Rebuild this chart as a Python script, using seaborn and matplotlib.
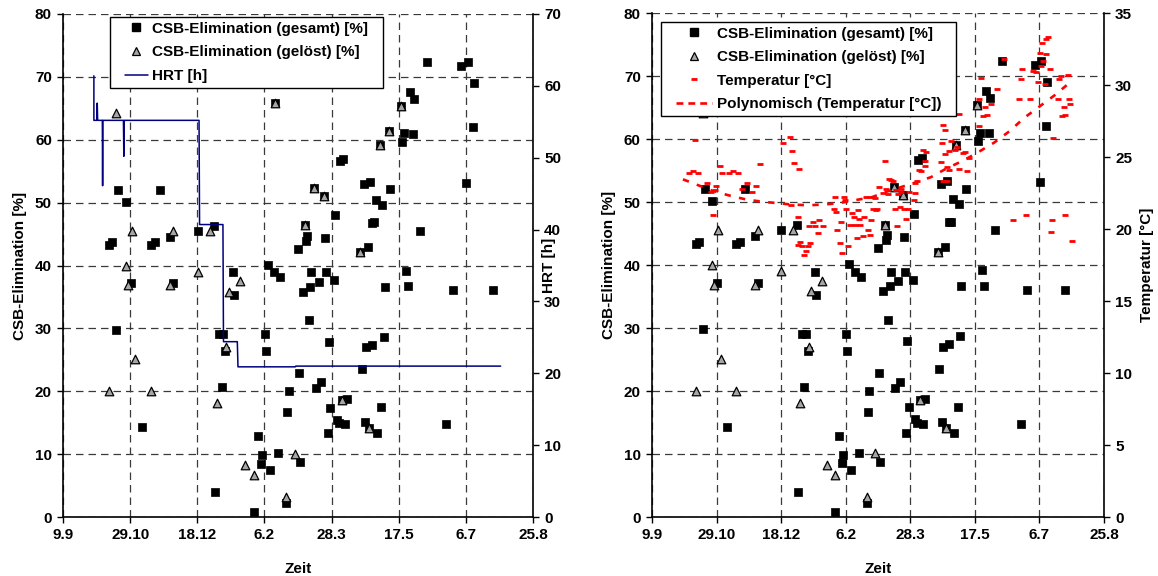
import matplotlib
matplotlib.use("Agg")
import matplotlib.pyplot as plt
import seaborn as sns
import numpy as np
from matplotlib.lines import Line2D
from matplotlib.patches import Rectangle

# ---------------- data (x = days after 9.9) ----------------
tick_labels = ["9.9", "29.10", "18.12", "6.2", "28.3", "17.5", "6.7", "25.8"]

gesamt_days = [34.4, 36.6, 39.4, 41.1, 46.6, 50.3, 58.5, 65.2, 68.3, 72.3,
               79.5, 81.9, 100.3, 112.2, 113.1, 116.4, 118.1, 119.4, 120.6, 126.3,
               127.0, 142.1, 145.1, 147.3, 148.1, 150.1, 151.3, 152.8, 154.0, 157.3,
               158.2, 160.2, 161.7, 166.2, 167.1, 168.1, 175.1, 176.1, 176.8, 178.8,
               180.2, 181.0, 182.0, 183.0, 184.0, 185.0, 187.2, 188.5, 190.9, 191.9,
               194.1, 194.9, 195.9, 197.1, 197.8, 198.9, 201.8, 202.8, 203.8, 205.3,
               206.0, 207.8, 208.8, 210.0, 211.2, 221.4, 222.6, 223.8, 224.9, 225.6,
               227.1, 227.5, 228.6, 229.8, 230.3, 231.8, 232.8, 233.8, 235.7, 236.8,
               237.7, 238.7, 239.7, 242.7, 243.4, 251.8, 252.6, 253.9, 255.6, 256.8,
               258.5, 260.8, 261.5, 265.7, 271.4, 285.5, 290.5, 296.4, 300.4, 301.4,
               305.3, 306.3, 320.2]
gesamt_vals = [43.3, 43.7, 29.8, 52.0, 50.1, 37.2, 14.3, 43.3, 43.7, 52.0,
               44.6, 37.2, 45.5, 46.3, 4.0, 29.1, 20.7, 29.1, 26.4, 38.9,
               35.3, 0.8, 12.9, 8.5, 9.9, 29.1, 26.4, 40.1, 7.5, 38.9,
               65.8, 10.2, 38.1, 2.3, 16.7, 20.0, 42.7, 22.9, 8.7, 35.8,
               46.4, 43.9, 44.7, 31.3, 36.6, 38.9, 52.4, 20.5, 37.4, 21.5,
               51.1, 44.4, 38.9, 13.4, 27.9, 17.4, 37.7, 48.1, 15.5, 15.0,
               56.6, 18.6, 57.0, 14.8, 18.8, 42.1, 23.5, 52.9, 15.1, 27.0,
               42.9, 14.2, 53.3, 27.4, 46.8, 46.9, 50.4, 13.4, 59.1, 17.5,
               49.7, 28.7, 36.6, 61.4, 52.1, 65.4, 59.7, 61.0, 39.2, 36.7,
               67.6, 60.9, 66.5, 45.5, 72.4, 14.8, 36.1, 71.8, 53.2, 72.4,
               62.1, 69.1, 36.1]

geloest_days = [34.4, 39.4, 46.6, 48.1, 51.3, 53.7, 65.4, 79.5, 81.9, 100.3,
                109.2, 114.4, 121.3, 123.3, 131.5, 135.4, 142.1, 158.2, 166.2, 173.1,
                180.2, 187.2, 194.1, 207.8, 221.4, 227.5, 235.7, 242.7, 251.8]
geloest_vals = [20.0, 64.2, 40.0, 36.9, 45.5, 25.1, 20.0, 36.9, 45.5, 39.0,
                45.5, 18.1, 27.0, 35.8, 37.5, 8.2, 6.7, 65.8, 3.2, 10.1,
                46.4, 52.4, 51.1, 18.6, 42.1, 14.2, 59.1, 61.4, 65.4]

hrt_days = [23.0, 23.0, 25.2, 25.5, 25.8, 29.3, 29.5, 29.7, 45.0, 45.3,
            45.6, 101.3, 101.7, 119.1, 119.5, 129.8, 130.3, 173.0, 173.3, 325.9]
hrt_vals = [61.4, 55.2, 55.2, 57.6, 55.2, 55.2, 46.1, 55.2, 55.2, 50.2,
            55.2, 55.2, 40.7, 40.7, 24.4, 24.4, 20.9, 20.9, 21.0, 21.0]

temp_days = [28.4, 31.5, 33.5, 35.5, 42.7, 45.4, 47.4, 48.9, 49.5, 52.5,
             54.6, 59.3, 62.8, 67.0, 70.1, 73.6, 77.3, 80.9, 83.5, 101.5,
             106.6, 107.6, 108.7, 110.3, 112.8, 112.8, 113.8, 114.4, 115.9, 117.5,
             119.6, 120.6, 121.6, 122.7, 124.7, 126.2, 128.3, 129.3, 132.4, 140.7,
             141.7, 142.7, 143.2, 145.3, 146.3, 147.4, 148.4, 149.4, 150.5, 151.5,
             153.0, 154.6, 156.6, 157.1, 158.7, 159.7, 160.7, 161.3, 163.3, 164.3,
             165.4, 167.4, 168.5, 169.0, 170.0, 171.1, 172.6, 173.6, 174.1, 176.2,
             178.8, 180.3, 181.0, 182.5, 183.9, 185.5, 187.0, 188.0, 189.1, 190.1,
             190.6, 192.2, 192.6, 193.2, 195.3, 196.8, 198.4, 199.4, 203.0, 203.5,
             204.0, 205.0, 207.1, 208.7, 210.2, 211.2, 211.7, 212.3, 223.6, 224.6,
             225.1, 225.7, 226.7, 227.2, 228.2, 228.7, 229.8, 230.3, 231.8, 234.4,
             236.5, 237.5, 238.0, 240.6, 242.7, 244.2, 245.2, 252.9, 253.5, 255.0,
             256.6, 257.6, 259.1, 262.8, 266.9, 273.0, 279.8, 284.4, 285.4, 286.9,
             290.0, 293.1, 295.2, 297.3, 299.3, 300.4, 301.4, 301.9, 302.9, 304.0,
             305.0, 305.5, 307.0, 308.1, 308.9, 309.7, 310.7, 314.3, 315.3, 316.8,
             317.4, 318.9, 319.9, 319.9, 322.0, 323.0, 324.0, 325.1]
temp_vals = [23.9, 24.0, 26.2, 23.9, 23.2, 22.6, 21.0, 22.7, 23.0, 24.4,
             23.9, 23.9, 24.0, 23.9, 22.8, 23.2, 22.6, 23.0, 24.5, 26.0,
             26.4, 21.7, 25.4, 24.6, 20.8, 18.9, 24.2, 19.1, 18.8, 18.2,
             18.5, 18.8, 20.2, 19.0, 20.5, 20.2, 19.7, 20.6, 20.2, 21.4,
             22.2, 21.2, 19.9, 19.05, 20.5, 18.3, 22.2, 22.0, 21.4, 18.8,
             20.3, 21.1, 20.8, 20.3, 19.4, 21.3, 20.7, 20.3, 19.5, 20.8,
             22.2, 19.9, 19.6, 22.2, 20.6, 21.4, 22.15, 21.3, 21.4, 22.9,
             22.5, 24.7, 22.8, 22.4, 23.5, 23.4, 23.3, 21.4, 22.7, 20.2,
             22.4, 21.5, 22.8, 22.6, 21.4, 20.7, 21.4, 22.6, 22.0, 23.2,
             22.5, 23.3, 24.1, 24.0, 25.5, 24.4, 24.7, 25.35, 24.65, 26.0,
             23.3, 27.2, 26.9, 25.2, 23.35, 24.3, 24.1, 25.4, 26.1, 25.5,
             25.7, 24.2, 28.0, 25.25, 25.35, 24.05, 24.9, 29.0, 27.15, 30.5,
             27.85, 28.5, 27.9, 28.7, 29.7, 31.8, 20.6, 29.0, 30.4, 31.1,
             21.0, 29.05, 31.0, 30.9, 30.2, 32.2, 31.3, 32.9, 31.7, 30.1,
             32.15, 33.2, 33.35, 31.1, 19.8, 20.6, 26.3, 29.0, 30.45, 30.6,
             27.85, 28.45, 27.9, 21.0, 30.7, 29.0, 28.7, 19.2]

trend_days = [24, 37, 47, 61, 73, 85, 97, 108, 121, 133, 145, 157, 170,
              182, 203, 216, 228, 241, 252, 265, 277, 288, 300, 312, 324]
trend_vals = [23.45, 23.0, 22.65, 22.3, 22.05, 21.9, 21.8, 21.7, 21.65, 21.7,
              21.8, 22.0, 22.2, 22.6, 23.2, 23.6, 24.2, 24.75, 25.3, 26.0,
              26.8, 27.7, 28.5, 29.3, 30.2]

lbl_ges = "CSB-Elimination (gesamt) [%]"
lbl_gel = "CSB-Elimination (gelöst) [%]"
lbl_hrt = "HRT [h]"
lbl_temp = "Temperatur [°C]"
lbl_trend = "Polynomisch (Temperatur [°C])"

# ---------------- style ----------------
sns.set_theme(style="white")
plt.rcParams["font.family"] = ["Liberation Sans", "DejaVu Sans"]
plt.rcParams["font.weight"] = "bold"
plt.rcParams["axes.labelweight"] = "bold"

FS = 11
GRID_LS = (0, (6, 4))
TRI_COLOR = "#a6a6a6"
HRT_COLOR = "#000080"

fig = plt.figure(figsize=(11.58, 5.76), dpi=100)
ax1 = fig.add_axes([0.0544, 0.1024, 0.4059, 0.8733])
ax3 = fig.add_axes([0.5630, 0.1024, 0.3903, 0.8750])
ax2 = ax1.twinx()
ax4 = ax3.twinx()

xticks = np.arange(0, 351, 50)


def style_primary(ax):
    ax.set_xlim(0, 350)
    ax.set_ylim(0, 80)
    ax.set_xticks(xticks)
    ax.set_xticklabels(tick_labels)
    ax.set_yticks(np.arange(0, 81, 10))
    ax.grid(True, linestyle=GRID_LS, color="#3a3a3a", linewidth=0.9)
    ax.set_axisbelow(True)
    for s in ["left", "bottom"]:
        ax.spines[s].set_color("black")
        ax.spines[s].set_linewidth(1.2)
    ax.spines["top"].set_visible(False)
    ax.spines["right"].set_visible(False)
    ax.tick_params(bottom=True, left=True, direction="out", length=4, width=1,
                   labelsize=FS, colors="black", pad=4)
    ax.set_xlabel("Zeit", fontsize=FS, fontweight="bold", color="black", labelpad=14)
    ax.set_ylabel("CSB-Elimination [%]", fontsize=FS, fontweight="bold",
                  color="black", labelpad=6)


def style_secondary(ax, top, step, label):
    ax.set_ylim(0, top)
    ax.set_yticks(np.arange(0, top + 1, step))
    ax.grid(False)
    ax.spines["top"].set_visible(False)
    ax.spines["left"].set_visible(False)
    ax.spines["bottom"].set_visible(False)
    ax.spines["right"].set_color("black")
    ax.spines["right"].set_linewidth(1.2)
    ax.tick_params(right=True, direction="out", length=4, width=1,
                   labelsize=FS, colors="black", pad=4)
    ax.set_ylabel(label, fontsize=FS, fontweight="bold", color="black", labelpad=6)


for ax in (ax1, ax3):
    style_primary(ax)
    sns.scatterplot(x=gesamt_days, y=gesamt_vals, ax=ax, marker="s", color="black",
                    edgecolor="black", linewidth=0.5, s=30, zorder=3, legend=False)
    sns.scatterplot(x=geloest_days, y=geloest_vals, ax=ax, marker="^", color=TRI_COLOR,
                    edgecolor="black", linewidth=0.9, s=38, zorder=4, legend=False)

# left: HRT
sns.lineplot(x=hrt_days, y=hrt_vals, ax=ax2, color=HRT_COLOR, linewidth=1.1,
             estimator=None, sort=False, legend=False)
style_secondary(ax2, 70, 10, "HRT [h]")
ax2.set_xlim(0, 350)
# the HRT label sits inside the tick-label column, between the 30 and 40 labels
ax2.yaxis.set_label_coords(1.02, 0.5)

# right: temperature
sns.scatterplot(x=temp_days, y=temp_vals, ax=ax4, marker="_", color="red",
                s=14, linewidth=2.0, zorder=3, legend=False)
sns.lineplot(x=trend_days, y=trend_vals, ax=ax4, color="red", linewidth=1.9,
             linestyle=(0, (2.4, 3.2)), estimator=None, sort=False, legend=False)
style_secondary(ax4, 35, 5, "Temperatur [°C]")
ax4.set_xlim(0, 350)

# ---------------- legends ----------------
h_ges = Line2D([], [], marker="s", ls="", color="black", markersize=5.5)
h_gel = Line2D([], [], marker="^", ls="", markerfacecolor=TRI_COLOR,
               markeredgecolor="black", markeredgewidth=0.9, markersize=6)
h_hrt = Line2D([], [], color=HRT_COLOR, lw=1.1)
h_temp = Line2D([], [], marker="_", ls="", color="red", markersize=3.8, markeredgewidth=2.0)
h_trend = Line2D([], [], color="red", lw=1.9, ls=(0, (2.6, 1.9)))

leg1 = ax2.legend([h_ges, h_gel, h_hrt], [lbl_ges, lbl_gel, lbl_hrt],
                  loc="upper left", bbox_to_anchor=(0.122, 0.994), frameon=False,
                  fontsize=FS, borderpad=0.3, labelspacing=0.64, handlelength=1.5,
                  handletextpad=0.3, borderaxespad=0)
leg2 = ax4.legend([h_ges, h_gel, h_temp, h_trend], [lbl_ges, lbl_gel, lbl_temp, lbl_trend],
                  loc="upper left", bbox_to_anchor=(0.043, 0.982), frameon=False,
                  fontsize=FS, borderpad=0.3, labelspacing=0.62, handlelength=2.35,
                  handletextpad=0.35, borderaxespad=0)
for leg in (leg1, leg2):
    for t in leg.get_texts():
        t.set_fontweight("bold")
        t.set_color("black")

fig.canvas.draw()
renderer = fig.canvas.get_renderer()
for leg, ax in ((leg1, ax2), (leg2, ax4)):
    bb = leg.get_window_extent(renderer)
    inv = ax.transAxes.inverted()
    (x0, y0) = inv.transform((bb.x0 - 10, bb.y0))
    (x1, y1) = inv.transform((bb.x1 + 10, bb.y1))
    rect = Rectangle((x0, y0), x1 - x0, y1 - y0, transform=ax.transAxes,
                     facecolor="white", edgecolor="black", linewidth=1.0,
                     zorder=4.5, clip_on=False)
    ax.add_patch(rect)
    leg.set_zorder(5)

fig.savefig("out.png", dpi=100)
